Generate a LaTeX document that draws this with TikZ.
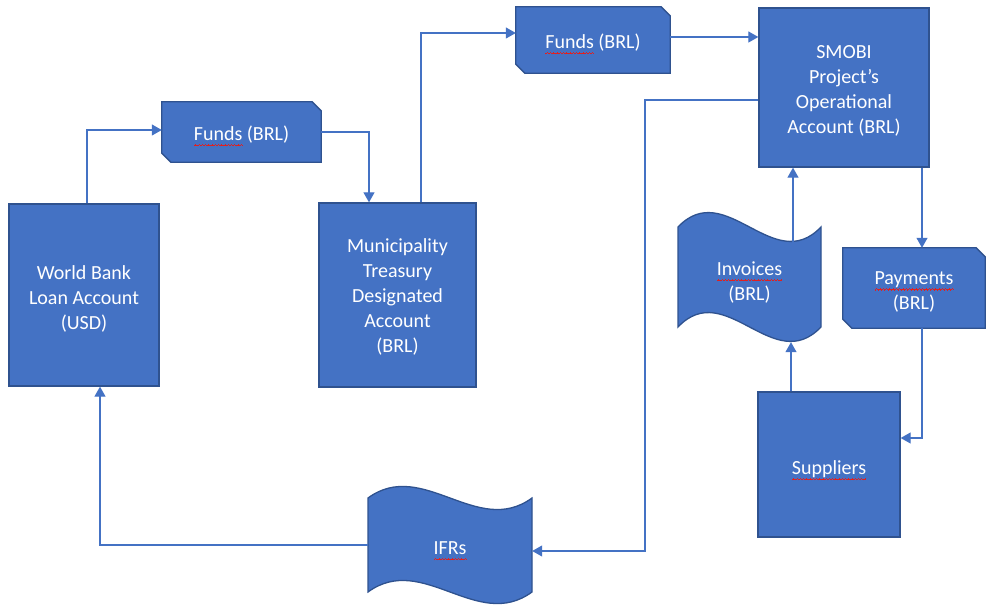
\documentclass[tikz,border=0pt]{standalone}
\usepackage{fontspec}
\setmainfont{Carlito}
\usetikzlibrary{arrows.meta,backgrounds}
\definecolor{boxfill}{HTML}{4472C4}
\definecolor{boxline}{HTML}{2F528F}
\definecolor{spell}{HTML}{E02020}
\newcommand\sqpiece{\rule[0pt]{0.8pt}{1.1pt}\rule[0.6pt]{0.8pt}{1.1pt}\rule[1.2pt]{0.8pt}{1.1pt}\rule[0.6pt]{0.8pt}{1.1pt}}
\newcommand\spl[1]{\setbox0\hbox{#1}\rlap{\color{spell}\lower6pt\hbox to\wd0{\xleaders\hbox{\sqpiece}\hfil}}\box0\relax}
\newcommand\chamf[1]{\draw[shapefill] (#1.north west) -- ([xshift=-9pt]#1.north east)
  -- ([yshift=-9pt]#1.north east) -- (#1.south east) -- ([xshift=9pt]#1.south west)
  -- ([yshift=9pt]#1.south west) -- cycle;}
\begin{document}
\begin{tikzpicture}[x=1pt,y=-1pt,
  lbl/.style={text=white,font=\fontsize{20}{25}\selectfont,align=center,
    inner sep=0pt,yshift=-4pt},
  box/.style={draw=boxline,fill=boxfill,line width=1.3pt,inner sep=0pt},
  cbox/.style={inner sep=0pt},
  wavebox/.style={inner sep=0pt},
  shapefill/.style={draw=boxline,fill=boxfill,line width=1.3pt},
  conn/.style={draw=boxfill,line width=1.1pt,-{Triangle[length=10pt,width=11pt]}}
]
\useasboundingbox (0,0) rectangle (986,609);

\node[box,minimum width=150pt,minimum height=182pt,
  label={[lbl]center:{World Bank\\Loan Account\\(USD)}}] (WB) at (84,295) {};
\node[cbox,minimum width=159pt,minimum height=60pt,
  label={[lbl]center:{\spl{Funds} (BRL)}}] (F1) at (241.5,132) {};
\node[box,minimum width=157pt,minimum height=184pt,
  label={[lbl,yshift=2pt]center:{Municipality\\Treasury\\Designated\\Account\\(BRL)}}] (MU) at (397.5,295) {};
\node[cbox,minimum width=154pt,minimum height=66pt,
  label={[lbl]center:{\spl{Funds} (BRL)}}] (F2) at (593,40) {};
\node[box,minimum width=170pt,minimum height=159pt,
  label={[lbl,yshift=1pt]center:{SMOBI\\Project’s\\Operational\\Account (BRL)}}] (SM) at (844,87.5) {};
\node[wavebox,minimum width=143pt,minimum height=129pt,
  label={[lbl,yshift=-1pt]center:{\spl{Invoices}\\(BRL)}}] (IN) at (749.5,277.5) {};
\node[cbox,minimum width=142pt,minimum height=80pt,
  label={[lbl]center:{\spl{Payments}\\(BRL)}}] (PA) at (914,288) {};
\node[box,minimum width=142pt,minimum height=145pt,
  label={[lbl,yshift=-2pt]center:{\spl{Suppliers}}}] (SU) at (829,464.5) {};
\node[wavebox,minimum width=164pt,minimum height=118pt,
  label={[lbl,yshift=-2pt]center:{\spl{IFRs}}}] (IF) at (450,545) {};

\begin{scope}[on background layer]
\chamf{F1}
\chamf{F2}
\chamf{PA}
\draw[shapefill] (678,227) .. controls (725.7,177) and (773.3,277) .. (821,227)
  -- (821,327) .. controls (773.3,377) and (725.7,277) .. (678,327) -- cycle;
\draw[shapefill] (368,498) .. controls (422.7,458) and (477.3,538) .. (532,498)
  -- (532,592) .. controls (477.3,632) and (422.7,552) .. (368,592) -- cycle;
\end{scope}

\coordinate (c5) at (645,551);
\draw[conn] ([xshift=3pt]WB.north) |- ([yshift=2pt]F1.west);
\draw[conn] (F1.east) -| ([xshift=-28.5pt]MU.north);
\draw[conn] ([xshift=23.5pt]MU.north) |- ([yshift=7pt]F2.west);
\draw[conn] ([yshift=3pt]F2.east) -- ([yshift=3pt]F2.east -| SM.west);
\draw[conn] ([yshift=-12.5pt]SM.west) -| (c5) -- (c5 -| IF.east);
\draw[conn] (IF.west) -| ([xshift=16pt]WB.south);
\draw[conn] ([xshift=78pt]SM.south) -- ([xshift=78pt]SM.south |- PA.north);
\draw[conn] ([xshift=78pt]SM.south |- PA.south) |- ([yshift=26.5pt]SU.east);
\draw[conn] ([xshift=-38pt]SU.north) -- ([xshift=-38pt]SU.north |- IN.south);
\draw[conn] ([xshift=43.5pt,yshift=-29pt]IN.north) -- ([xshift=43.5pt]IN.north |- SM.south);
\end{tikzpicture}
\end{document}
